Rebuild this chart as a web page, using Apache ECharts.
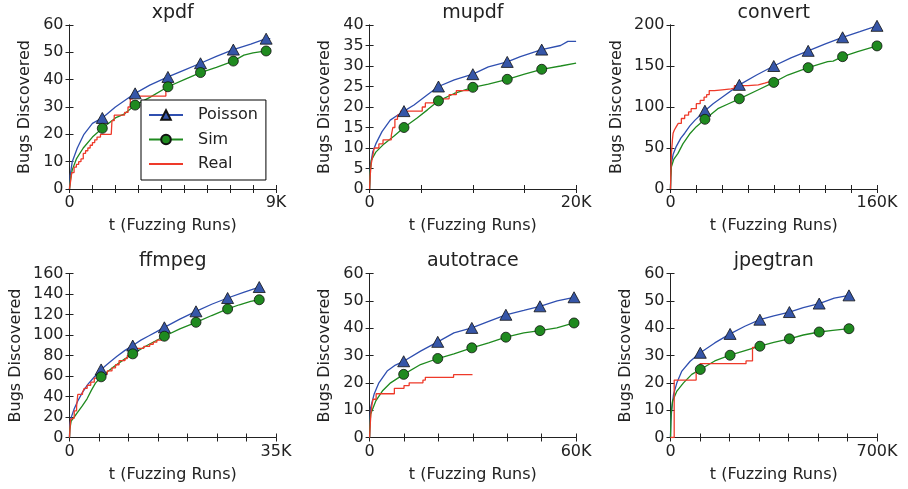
<!DOCTYPE html>
<html>
<head>
<meta charset="utf-8">
<script src="https://cdn.jsdelivr.net/npm/echarts@6/dist/echarts.min.js"></script>
<style>
  html, body { margin: 0; padding: 0; background: #fff; }
  #main { width: 908px; height: 489px; }
</style>
</head>
<body>
<div id="main"></div>
<script>
// panel setup (x values are in thousands of fuzzing runs)
const titles = ['xpdf', 'mupdf', 'convert', 'ffmpeg', 'autotrace', 'jpegtran'];
const xMax = [9, 20, 160, 35, 60, 700];
const xStep = [1, 5, 20, 5, 10, 100];
const xEndLabel = ['9K', '20K', '160K', '35K', '60K', '700K'];
const yMax = [60, 40, 200, 160, 60, 60];
const yStep = [10, 5, 50, 20, 10, 10];

// x positions where markers are drawn
const xpdfMarks = [1.43, 2.86, 4.29, 5.71, 7.14, 8.57];
const mupdfMarks = [3.33, 6.67, 10, 13.33, 16.67];
const convertMarks = [26.67, 53.33, 80, 106.67, 133.33, 160];
const ffmpegMarks = [5.36, 10.72, 16.08, 21.44, 26.8, 32.16];
const autotraceMarks = [9.9, 19.8, 29.7, 39.6, 49.5, 59.4];
const jpegtranMarks = [101, 202, 303, 403, 504, 605];

// xpdf
const xpdfPoisson = [[0,0],[0.03,5],[0.12,10],[0.34,15],[0.63,20],[1.0,24],[1.43,26],[2.0,30],[2.86,35],[3.5,38],[4.29,41],[5.0,43.5],[5.71,46],[6.4,48.5],[7.14,51],[7.9,53],[8.57,55],[8.75,55]];
const xpdfSim = [[0,0],[0.05,4],[0.12,7],[0.3,11],[0.6,15],[1.0,19],[1.43,22.2],[2.0,26],[2.4,27.5],[2.86,30.7],[3.5,33.5],[4.29,37.4],[5.0,40],[5.71,42.6],[6.4,44.5],[7.14,46.8],[7.6,49],[8.0,49.8],[8.57,50.5],[8.75,50.6]];
const xpdfReal = [[0,0],[0.05,3],[0.1,6],[0.2,8],[0.3,9],[0.4,10],[0.5,11],[0.6,13],[0.7,14],[0.8,15],[0.9,16],[1.0,17],[1.1,18],[1.2,19],[1.35,20],[1.82,20],[1.85,25],[1.95,27],[2.2,27],[2.4,28],[2.55,30],[2.65,33],[2.75,34],[4.1,34],[4.2,36],[4.3,37]];

// mupdf
const mupdfPoisson = [[0,0],[0.03,3],[0.1,6],[0.3,9],[0.6,11],[1.2,14],[2.0,16.8],[2.7,18],[3.33,19],[4.3,20.5],[5.6,23],[6.67,25],[8.2,26.6],[10,28],[11.5,29.8],[13.33,31],[14.6,32.3],[16.67,34],[18.5,35],[19.2,36],[20,36]];
const mupdfSim = [[0,0],[0.05,4],[0.17,7],[0.6,9],[1.4,11],[2.4,13],[3.33,15],[4.6,17.3],[5.6,19.3],[6.67,21.5],[8.2,23.3],[10,24.8],[11.5,25.6],[13.33,26.75],[15,28],[16.67,29.2],[18.5,30],[20,30.7]];
const mupdfReal = [[0,0],[0.05,3],[0.15,6],[0.3,8],[0.45,10],[0.9,11],[1.3,12],[2.1,13],[2.25,15],[2.45,17],[2.7,18],[3.0,19],[5.1,20],[5.4,21],[6.9,22],[7.7,23],[8.4,24],[9.6,25],[9.9,25]];

// convert
const convertPoisson = [[0,0],[0.2,15],[0.7,31],[2,42],[4.5,52],[8,62],[11,68],[15,77],[19,84],[26.67,95.5],[33,104],[40,112],[53.33,127],[66.7,139],[80,150],[93.3,160],[106.67,168.5],[120,177],[133.33,185],[146.7,192],[160,199]];
const convertSim = [[0,0],[0.2,14],[0.7,27],[2.5,36],[5.8,43.5],[9.6,55],[14.8,67],[20,76],[26.67,85],[36.7,98],[45,104],[53.33,110],[67.7,120.7],[80,130],[90.8,139],[106.67,148],[121.8,155.3],[126,156],[133.33,161.4],[145,167.5],[160,174.5]];
const convertReal = [[0,0],[0.3,20],[0.7,43],[1.5,60],[2,68],[3,72],[4.5,76],[6,80],[8.4,86],[11,90],[14,94],[16,98],[20,104],[23,108],[26,112],[28,115],[30,120],[34,121],[40,122],[47,123],[49.5,126],[60,127],[68,129],[73,131],[77,132]];

// ffmpeg
const ffmpegPoisson = [[0,0],[0.05,12],[0.28,19.4],[0.8,28],[1.4,35.6],[2.2,44],[3.1,51.8],[4.2,59],[5.36,66.4],[6.7,73],[8.0,79],[9.4,85],[10.72,89.7],[12.1,95],[13.4,99],[14.7,103],[16.08,107.5],[18.7,115.5],[21.44,123.1],[24.1,130],[26.8,136.1],[29.5,141.5],[32.16,146.8]];
const ffmpegSim = [[0,0],[0.05,8],[0.28,16],[0.8,20],[1.3,24],[2.2,31],[3.0,38],[3.7,46],[4.4,53],[5.36,59.2],[7.6,69.6],[9.2,76],[10.72,81.6],[13.2,90],[16.08,98.8],[18.7,106],[21.44,112.4],[24.1,119],[26.8,125.4],[28.8,129.5],[30.7,132.8],[32.16,134.4]];
const ffmpegReal = [[0,0],[0.1,10],[0.2,18],[0.5,19],[0.8,26],[1.2,30],[1.4,42],[2.2,44],[2.5,48],[3.0,51],[3.6,54],[4.2,58],[5.2,62],[6.4,65],[7.2,68],[7.8,71],[8.4,75],[9.4,77],[9.8,80],[10.4,83],[11.2,87],[12.6,89],[13.6,91],[14.2,93],[14.8,95],[15.6,97],[16.0,98]];

// autotrace
const autotracePoisson = [[0,0],[0.05,5],[0.3,10.9],[1.3,15.8],[2.7,20],[5.1,24.3],[7.5,26.5],[9.9,27.9],[14.8,31.6],[19.8,35],[24.5,38.3],[29.7,40.1],[34.6,42.5],[39.6,44.9],[44.8,46.5],[49.5,48],[54.5,50],[59.4,51.3],[60,51.5]];
const autotraceSim = [[0,0],[0.05,3],[0.3,8.5],[1.76,13.3],[3.7,17],[6.1,20],[9.9,23.1],[14.8,26.7],[19.8,28.9],[24.5,30.6],[29.7,32.8],[34.6,34.6],[39.6,36.7],[44.8,38.3],[49.5,39.1],[54.4,40.1],[59.4,41.9],[60,42]];
const autotraceReal = [[0,0],[0.2,5],[0.4,9],[0.7,12],[1.0,14],[1.9,16],[7.2,18],[10.0,19],[11.5,20],[15.5,21],[16.2,22],[24.4,23],[29.9,23]];

// jpegtran
const jpegtranPoisson = [[0,0],[1,6],[4.6,10.9],[10.3,15.8],[21.6,20],[38.5,24.3],[66.7,27.9],[101,31],[150,34.6],[202,37.9],[252,40.7],[303,43.1],[350,44.5],[403,45.9],[450,47.5],[504,49],[555,51],[605,52],[612,52]];
const jpegtranSim = [[0,0],[1,4],[2.2,8.5],[6.9,13.3],[21.6,17],[44,20],[72,23.1],[101,24.9],[150,28],[202,30.1],[250,31.7],[303,33.4],[350,34.8],[403,36.1],[450,37.5],[504,38.6],[550,39.2],[605,39.8]];
const jpegtranReal = [[0,0],[12.5,21],[87,24],[100,27],[256,28],[278,33],[310,33]];

const poissonData = [xpdfPoisson, mupdfPoisson, convertPoisson, ffmpegPoisson, autotracePoisson, jpegtranPoisson];
const simData = [xpdfSim, mupdfSim, convertSim, ffmpegSim, autotraceSim, jpegtranSim];
const realData = [xpdfReal, mupdfReal, convertReal, ffmpegReal, autotraceReal, jpegtranReal];
const markData = [xpdfMarks, mupdfMarks, convertMarks, ffmpegMarks, autotraceMarks, jpegtranMarks];

const FONT = 'DejaVu Sans';
const INK = '#222';
const colLeft = [69.5, 369.6, 670.5];
const rowTop = [25, 273.5];
const plotW = 206.5, plotH = 164;

// only the marker points keep their symbol
function withMarks(points, marks) {
  return points.map(p => marks.indexOf(p[0]) >= 0 ? { value: p } : { value: p, symbol: 'none' });
}

let grids = [], xAxes = [], yAxes = [], series = [];
const tick = { inside: true, length: 4, lineStyle: { color: INK, width: 1 } };
const frame = { show: true, lineStyle: { color: INK, width: 1 } };

titles.forEach((t, i) => {
  grids.push({
    left: colLeft[i % 3], top: rowTop[Math.floor(i / 3)], width: plotW, height: plotH,
    containLabel: false, outerBoundsMode: 'none'
  });
  const xm = xMax[i];
  xAxes.push({
    gridIndex: i, type: 'value', min: 0, max: xm, interval: xStep[i], position: 'bottom',
    axisLine: frame, axisTick: tick, splitLine: { show: false },
    axisLabel: {
      fontSize: 16, fontFamily: FONT, color: INK, margin: 6,
      formatter: v => v === 0 ? '0' : (v === xm ? xEndLabel[i] : '')
    },
    name: 't (Fuzzing Runs)', nameLocation: 'middle', nameGap: 29,
    nameTextStyle: { fontSize: 16, fontFamily: FONT, color: INK }
  });
  // top axis only mirrors the ticks and carries the panel title
  xAxes.push({
    gridIndex: i, type: 'value', min: 0, max: xm, interval: xStep[i], position: 'top',
    axisLine: frame, axisTick: tick, splitLine: { show: false }, axisLabel: { show: false },
    name: t, nameLocation: 'middle', nameGap: 2.5,
    nameTextStyle: { fontSize: 19, fontFamily: FONT, color: INK }
  });
  yAxes.push({
    gridIndex: i, type: 'value', min: 0, max: yMax[i], interval: yStep[i], position: 'left',
    axisLine: frame, axisTick: tick, splitLine: { show: false },
    axisLabel: { fontSize: 16, fontFamily: FONT, color: INK, margin: 6 },
    name: 'Bugs Discovered', nameLocation: 'middle', nameGap: yMax[i] >= 100 ? 46 : 36.5,
    nameTextStyle: { fontSize: 16, fontFamily: FONT, color: INK }
  });
  yAxes.push({
    gridIndex: i, type: 'value', min: 0, max: yMax[i], interval: yStep[i], position: 'right',
    axisLine: frame, axisTick: tick, splitLine: { show: false }, axisLabel: { show: false }
  });

  series.push({
    name: 'Poisson', type: 'line', xAxisIndex: 2 * i, yAxisIndex: 2 * i,
    data: withMarks(poissonData[i], markData[i]),
    symbol: 'triangle', symbolSize: [12, 11], showSymbol: true,
    lineStyle: { color: '#2f4fb0', width: 1.3 },
    itemStyle: { color: '#3656a8', borderColor: '#111', borderWidth: 0.8 }
  });
  series.push({
    name: 'Sim', type: 'line', xAxisIndex: 2 * i, yAxisIndex: 2 * i,
    data: withMarks(simData[i], markData[i]),
    symbol: 'circle', symbolSize: 10, showSymbol: true,
    lineStyle: { color: '#1f8a1f', width: 1.3 },
    itemStyle: { color: '#1f8a1f', borderColor: '#111', borderWidth: 0.8 }
  });
  series.push({
    name: 'Real', type: 'line', xAxisIndex: 2 * i, yAxisIndex: 2 * i,
    data: realData[i], step: 'end', showSymbol: false, symbol: 'circle',
    lineStyle: { color: '#ee3a2a', width: 1.3 },
    itemStyle: { color: 'transparent' }
  });
});

const chart = echarts.init(document.getElementById('main'));
chart.setOption({
  animation: false,
  backgroundColor: '#fff',
  textStyle: { fontFamily: FONT },
  grid: grids,
  xAxis: xAxes,
  yAxis: yAxes,
  legend: {
    data: ['Poisson', 'Sim', 'Real'],
    orient: 'vertical', left: 141, top: 100,
    itemWidth: 34, itemHeight: 12, itemGap: 8.5,
    padding: [7, 8, 8, 7],
    backgroundColor: '#fff', borderColor: '#000', borderWidth: 1, borderRadius: 0,
    selectedMode: false,
    textStyle: { fontSize: 16, fontFamily: FONT, color: INK, lineHeight: 16, padding: [0, 0, 0, 10] }
  },
  series: series
});
</script>
</body>
</html>
